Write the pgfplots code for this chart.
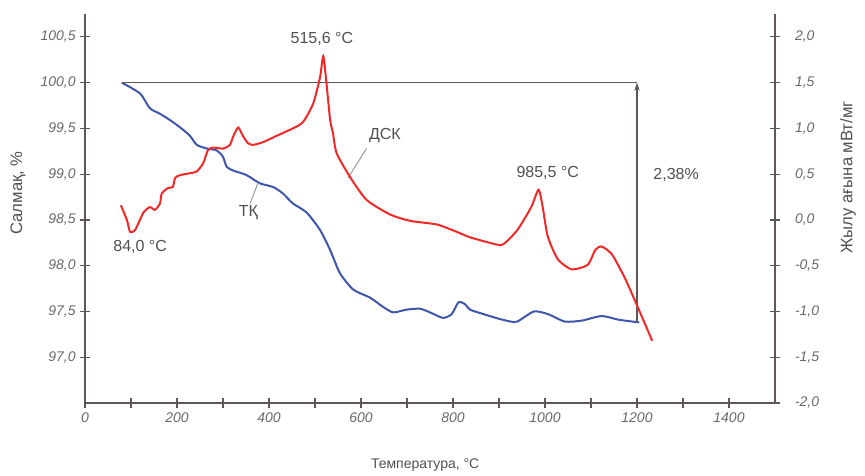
\documentclass[border=0pt]{standalone}
\usepackage{pgfplots}
\pgfplotsset{compat=1.18}
\usepackage{fontspec}
\setmainfont{Liberation Sans}
\usetikzlibrary{arrows.meta}
\definecolor{tgblue}{RGB}{62,86,172}
\definecolor{dscred}{RGB}{242,40,40}
\definecolor{axgray}{RGB}{95,85,85}
\definecolor{txtgray}{RGB}{80,80,80}
\definecolor{tickgray}{RGB}{105,105,105}
\definecolor{leadgray}{RGB}{150,150,150}

\pgfplotstableread{
x y
80 100.00
120 99.88
141 99.72
163 99.66
185 99.59
207 99.51
228 99.42
243 99.32
265 99.28
286 99.26
300 99.19
308 99.08
322 99.04
351 98.99
380 98.90
409 98.86
430 98.79
452 98.68
482 98.58
511 98.39
533 98.17
554 97.92
583 97.74
620 97.65
648 97.55
670 97.49
699 97.52
728 97.53
750 97.49
778 97.43
797 97.47
812 97.60
826 97.58
837 97.52
867 97.47
900 97.42
925 97.39
940 97.39
976 97.50
1007 97.47
1043 97.39
1080 97.40
1123 97.45
1160 97.41
1205 97.38
}\tgdata

\pgfplotstableread{
x y
78 0.16
91 0.00
98 -0.13
109 -0.11
127 0.08
141 0.14
152 0.11
163 0.18
167 0.29
181 0.35
191 0.36
196 0.46
207 0.49
228 0.51
243 0.53
257 0.62
267 0.76
278 0.79
300 0.78
315 0.82
322 0.91
333 1.01
343 0.92
354 0.84
365 0.82
387 0.85
417 0.92
452 1.00
474 1.07
496 1.27
511 1.56
518 1.79
525 1.49
533 1.09
539 0.95
547 0.73
576 0.47
612 0.22
663 0.06
707 -0.01
765 -0.05
808 -0.13
837 -0.19
896 -0.27
911 -0.26
940 -0.11
970 0.14
986 0.33
995 0.14
1006 -0.18
1028 -0.43
1058 -0.54
1093 -0.49
1109 -0.33
1123 -0.29
1146 -0.38
1175 -0.65
1204 -0.98
1233 -1.32
}\dscdata

\begin{document}
\begin{tikzpicture}
\pgfplotsset{
  common/.style={
    scale only axis, width=517.5pt, height=291.75pt,
    xmin=0, xmax=1500,
    tick align=inside,
    major tick length=7pt,
    tick style={axgray, line width=0.9pt},
    tick label style={font=\fontsize{10.5}{12}\selectfont\itshape, text=tickgray},
    /pgf/number format/use comma,
    /pgf/number format/fixed,
    /pgf/number format/fixed zerofill,
    /pgf/number format/precision=1,
    /pgf/number format/assume math mode=true,
  },
}
\begin{axis}[
  common,
  ymin=96.5, ymax=100.75,
  axis x line=bottom, axis y line=left,
  axis line style={-, axgray, line width=1pt},
  xtick={0,100,...,1400},
  xticklabels={0,,200,,400,,600,,800,,1000,,1200,,1400},
  ytick={97,97.5,98,98.5,99,99.5,100,100.5},
  clip=false,
]
\addplot[tgblue, line width=1.5pt, smooth, tension=0.4] table[x=x,y=y] {\tgdata};
% reference lines
\draw[axgray, line width=0.9pt] (axis cs:80,100.0) -- (axis cs:1200,100.0);
\draw[axgray, line width=0.9pt, -{Stealth[length=6pt,width=4pt]}] (axis cs:1200,97.38) -- (axis cs:1200,100.0);
% leaders
\draw[leadgray, line width=0.7pt] (axis cs:612,99.28) -- (axis cs:572,98.96);
\draw[leadgray, line width=0.7pt] (axis cs:375,98.89) -- (axis cs:359,98.68);
% annotations
\begin{scope}[every node/.style={font=\fontsize{12}{14}\selectfont, text=txtgray}]
\node at (axis cs:515,100.475) {515,6 °C};
\node at (axis cs:652,99.42) {ДСК};
\node at (axis cs:355,98.58) {ТҚ};
\node at (axis cs:120,98.21) {84,0 °C};
\node at (axis cs:1006,99.01) {985,5 °C};
\node at (axis cs:1285,98.99) {2,38\%};
\end{scope}
\begin{scope}[every node/.style={font=\fontsize{12.5}{14}\selectfont, text=txtgray}]
\node[rotate=90] at (rel axis cs:-0.0971,0.54) {Салмақ, \%};
\node[rotate=90] at (rel axis cs:1.1058,0.58) {Жылу ағына мВт/мг};
\end{scope}
\node[font=\fontsize{10.5}{12}\selectfont, text=txtgray] at (rel axis cs:0.493,-0.159) {Температура, °С};
\end{axis}
\begin{axis}[
  common,
  ymin=-2, ymax=2.25,
  axis x line=none, axis y line=right,
  axis line style={-, axgray, line width=1pt},
  ytick={-2,-1.5,-1,-0.5,0,0.5,1,1.5,2},
  yticklabel style={xshift=8pt},
]
\addplot[dscred, line width=1.5pt, smooth, tension=0.4] table[x=x,y=y] {\dscdata};
\end{axis}
\pgfresetboundingbox
\path ([shift={(-63.75pt,-54.75pt)}]current axis.south west) rectangle ([shift={(67.5pt,10.5pt)}]current axis.north east);
\end{tikzpicture}
\end{document}
